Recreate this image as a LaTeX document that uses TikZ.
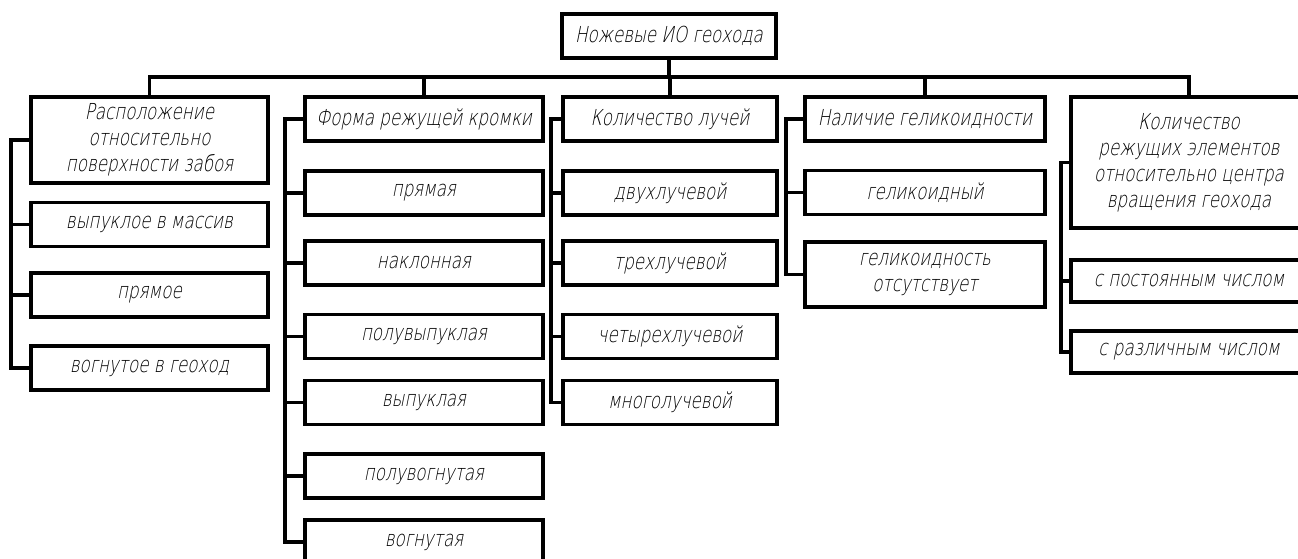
\documentclass[tikz,border=0pt]{standalone}
\usepackage{fontspec}
\setmainfont{DejaVu Sans ExtraLight}[FakeSlant=0.2, FakeStretch=0.76]
\usepackage{tikz}
\usetikzlibrary{positioning}

\tikzset{
  blok/.style={draw, line width=3.6pt, inner sep=2pt, align=center,
    minimum height=44pt, font=\fontsize{22}{26}\selectfont},
  link/.style={line width=3.6pt},
}

\begin{document}
\begin{tikzpicture}[x=1pt, y=-1pt]
  \useasboundingbox (0,0) rectangle (1298,558);
  \clip (0,0) rectangle (1298,558);

  \node[blok, minimum width=214pt] (root) at (669,36) {Ножевые ИО геохода};
  \coordinate (bus) at (669,77);

  % column 1
  \node[blok, minimum width=237pt, minimum height=86pt] (loc) at (149.5,140)
    {Расположение\\относительно\\поверхности забоя};
  \node[blok, minimum width=237pt] (loc1) at (149.5,224.5) {выпуклое в массив};
  \node[blok, minimum width=237pt] (loc2) at (149.5,295) {прямое};
  \node[blok, minimum width=237pt] (loc3) at (149.5,368) {вогнутое в геоход};

  % column 2
  \node[blok, minimum width=238pt] (form) at (424,119) {Форма режущей кромки};
  \node[blok, minimum width=238pt] (form1) at (424,193) {прямая};
  \node[blok, minimum width=238pt] (form2) at (424,263) {наклонная};
  \node[blok, minimum width=238pt] (form3) at (424,336.5) {полувыпуклая};
  \node[blok, minimum width=238pt] (form4) at (424,402.5) {выпуклая};
  \node[blok, minimum width=238pt] (form5) at (424,476) {полувогнутая};
  \node[blok, minimum width=238pt] (form6) at (424,542) {вогнутая};

  % column 3
  \node[blok, minimum width=214pt] (rays) at (670,119) {Количество лучей};
  \node[blok, minimum width=214pt] (rays1) at (670,193) {двухлучевой};
  \node[blok, minimum width=214pt] (rays2) at (670,263) {трехлучевой};
  \node[blok, minimum width=214pt] (rays3) at (670,336.5) {четырехлучевой};
  \node[blok, minimum width=214pt] (rays4) at (670,402.5) {многолучевой};

  % column 4
  \node[blok, minimum width=240pt] (helic) at (925,119) {Наличие геликоидности};
  \node[blok, minimum width=240pt] (helic1) at (925,192.5) {геликоидный};
  \node[blok, minimum width=240pt, minimum height=65pt] (helic2) at (925,274.5)
    {геликоидность\\отсутствует};

  % column 5
  \node[blok, minimum width=236pt, minimum height=131pt] (count) at (1189,162.5)
    {Количество\\режущих элементов\\относительно центра\\вращения геохода};
  \node[blok, minimum width=236pt, minimum height=42pt] (count1) at (1189,281) {с постоянным числом};
  \node[blok, minimum width=236pt, minimum height=42pt] (count2) at (1189,352) {с различным числом};

  % bus
  \draw[link] (root.south) -- (bus);
  \draw[link] (loc.north) -- (loc.north |- bus) -- (count.north |- bus) -- (count.north);
  \foreach \n in {form,rays,helic}
    \draw[link] (\n.north) -- (\n.north |- bus);

  % spines
  \foreach \c in {loc1,loc2,loc3}
    \draw[link] (loc.west) -- ++(-18,0) |- (\c.west);
  \foreach \c in {form1,form2,form3,form4,form5,form6}
    \draw[link] (form.west) -- ++(-18,0) |- (\c.west);
  \foreach \c in {rays1,rays2,rays3,rays4}
    \draw[link] (rays.west) -- ++(-10,0) |- (\c.west);
  \foreach \c in {helic1,helic2}
    \draw[link] (helic.west) -- ++(-17,0) |- (\c.west);
  \foreach \c in {count1,count2}
    \draw[link] (count.west) -- ++(-8,0) |- (\c.west);
\end{tikzpicture}
\end{document}
